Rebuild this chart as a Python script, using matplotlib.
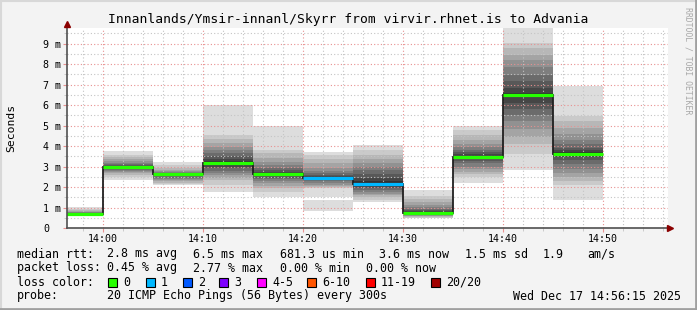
import matplotlib
matplotlib.use('Agg')
import matplotlib.pyplot as plt
from matplotlib.patches import Rectangle
from matplotlib.ticker import MultipleLocator, FixedLocator

W, H = 697, 310
MONO = 'DejaVu Sans Mono'

# ---------------- data ----------------
bar_start_min = [-5, 0, 5, 10, 15, 20, 25, 30, 35, 40, 45]   # minutes relative to 14:00
bar_len_min = 5
median_ms = [0.68, 3.00, 2.63, 3.19, 2.63, 2.44, 2.16, 0.75, 3.45, 6.49, 3.60]
loss_pings = [0, 0, 0, 0, 0, 1, 1, 0, 0, 0, 0]

# sorted ping round-trip times (ms) of each 5-minute round
pings_1355 = [0.58, 0.59, 0.60, 0.61, 0.62, 0.63, 0.64, 0.65, 0.66, 0.67,
              0.70, 0.71, 0.72, 0.74, 0.76, 0.79, 0.83, 0.88, 0.94, 1.02]
pings_1400 = [2.34, 2.48, 2.58, 2.66, 2.72, 2.78, 2.85, 2.90, 2.95, 3.00,
              3.03, 3.05, 3.08, 3.12, 3.18, 3.25, 3.35, 3.45, 3.56, 3.76]
pings_1405 = [2.10, 2.17, 2.22, 2.28, 2.34, 2.40, 2.46, 2.52, 2.58, 2.62,
              2.65, 2.66, 2.68, 2.70, 2.73, 2.78, 2.85, 2.95, 3.07, 3.23]
pings_1410 = [1.77, 2.10, 2.34, 2.45, 2.59, 2.70, 2.80, 2.91, 3.00, 3.12,
              3.28, 3.38, 3.50, 3.64, 3.80, 3.97, 4.15, 4.35, 4.55, 6.00]
pings_1415 = [1.50, 1.75, 1.93, 2.05, 2.18, 2.30, 2.38, 2.45, 2.52, 2.60,
              2.68, 2.75, 2.83, 2.95, 3.07, 3.20, 3.40, 3.64, 3.80, 5.00]
pings_1420 = [1.53, 1.93, 2.00, 2.05, 2.12, 2.20, 2.28, 2.35, 2.38, 2.42,
              2.47, 2.52, 2.60, 2.70, 2.80, 2.95, 3.15, 3.35, 3.55, 3.72]
pings_1425 = [1.25, 1.37, 1.50, 1.60, 1.68, 1.77, 1.85, 1.93, 2.00, 2.10,
              2.30, 2.45, 2.65, 2.85, 3.00, 3.15, 3.35, 3.55, 3.80, 4.05]
pings_1430 = [0.47, 0.51, 0.54, 0.57, 0.60, 0.62, 0.64, 0.67, 0.70, 0.73,
              0.78, 0.82, 0.88, 0.95, 1.02, 1.12, 1.25, 1.40, 1.55, 1.85]
pings_1435 = [2.20, 2.50, 2.65, 2.75, 2.90, 3.00, 3.15, 3.25, 3.35, 3.43,
              3.52, 3.60, 3.70, 3.80, 3.95, 4.10, 4.30, 4.55, 4.80, 5.00]
pings_1440 = [2.85, 3.60, 4.10, 4.45, 4.85, 5.20, 5.50, 5.80, 6.10, 6.40,
              6.60, 6.85, 7.15, 7.45, 7.85, 8.20, 8.45, 8.80, 9.05, 9.75]
pings_1445 = [1.35, 2.10, 2.30, 2.50, 2.70, 2.90, 3.10, 3.30, 3.45, 3.58,
              3.70, 3.80, 3.90, 4.10, 4.30, 4.60, 4.90, 5.20, 5.45, 6.95]
# lone low sample band of the 14:20 round (with one lost ping)
extra_band_1420 = [0.85, 1.37]

smoke = [pings_1355, pings_1400, pings_1405, pings_1410, pings_1415, pings_1420,
         pings_1425, pings_1430, pings_1435, pings_1440, pings_1445]

x_tick_pos = [0, 10, 20, 30, 40, 50]
x_tick_labels = ['14:00', '14:10', '14:20', '14:30', '14:40', '14:50']
y_tick_pos = [0, 1, 2, 3, 4, 5, 6, 7, 8, 9]
y_tick_labels = ['0', '1 m', '2 m', '3 m', '4 m', '5 m', '6 m', '7 m', '8 m', '9 m']

loss_labels = ['0', '1', '2', '3', '4-5', '6-10', '11-19', '20/20']
loss_colors = ['#26ff00', '#00b8ff', '#0059ff', '#7e00ff', '#ff00ff', '#ff5500', '#ff0000', '#a10000']

title = 'Innanlands/Ymsir-innanl/Skyrr from virvir.rhnet.is to Advania'
row_median = [('median rtt:', 17), ('2.8 ms avg', 107), ('6.5 ms max', 193),
              ('681.3 us min', 280), ('3.6 ms now', 379), ('1.5 ms sd', 465),
              ('1.9', 543), ('am/s', 587)]
row_loss = [('packet loss:', 17), ('0.45 % avg', 107), ('2.77 % max', 193),
            ('0.00 % min', 280), ('0.00 % now', 366)]
loss_box_x = [108, 146, 183, 219, 257, 307, 366, 431]
probe_text = '20 ICMP Echo Pings (56 Bytes) every 300s'
date_text = 'Wed Dec 17 14:56:15 2025'

# ---------------- figure ----------------
fig = plt.figure(figsize=(W / 100, H / 100), dpi=100, facecolor='#f3f3f3')

def fx(x):
    return x / W

def fy(y):
    return 1 - y / H

# border (3D frame)
fig.add_artist(plt.Line2D([0, 1], [fy(0.5), fy(0.5)], color='#d8d8d8', lw=1.5, transform=fig.transFigure))
fig.add_artist(plt.Line2D([fx(0.5), fx(0.5)], [0, 1], color='#d8d8d8', lw=1.5, transform=fig.transFigure))
fig.add_artist(plt.Line2D([0, 1], [fy(309), fy(309)], color='#a0a0a0', lw=2, transform=fig.transFigure))
fig.add_artist(plt.Line2D([fx(696), fx(696)], [0, 1], color='#a0a0a0', lw=2, transform=fig.transFigure))

left, right, top, bottom = 67, 668, 28, 228
ax = fig.add_axes([fx(left), fy(bottom), (right - left) / W, (bottom - top) / H])
ax.set_facecolor('white')
ax.set_xlim(-3.6, 56.5)
ax.set_ylim(0, 9.76)

def gray(k):
    v = int(190 / 10 * (10 - (k + 1))) + 50
    return '#%02x%02x%02x' % (v, v, v)

for k in range(10):
    for start, p in zip(bar_start_min, smoke):
        lo, hi = p[k], p[19 - k]
        ax.bar(start, hi - lo, bottom=lo, width=bar_len_min, align='edge',
               color=gray(k), linewidth=0, zorder=1 + k * 0.01)
ax.bar(20, extra_band_1420[1] - extra_band_1420[0], bottom=extra_band_1420[0],
       width=bar_len_min, align='edge', color=gray(0), linewidth=0, zorder=1)

# grid
ax.xaxis.set_major_locator(FixedLocator(x_tick_pos))
ax.xaxis.set_minor_locator(MultipleLocator(2))
ax.yaxis.set_major_locator(FixedLocator(y_tick_pos))
ax.yaxis.set_minor_locator(MultipleLocator(0.5))
ax.set_axisbelow(False)
ax.grid(which='minor', color='#c4c4c4', lw=0.8, linestyle=(0, (1, 2)))
ax.grid(which='major', color='#e89090', lw=0.8, linestyle=(0, (1, 2)))

# median line
edges = bar_start_min + [bar_start_min[-1] + bar_len_min]
ax.stairs(median_ms, edges, baseline=None, color='#202020', lw=1.3, zorder=4)
ax.hlines(median_ms, bar_start_min, [s + bar_len_min for s in bar_start_min],
          colors=[loss_colors[l] for l in loss_pings], lw=2.3, zorder=5)

# axes & ticks
for s in ['top', 'right']:
    ax.spines[s].set_visible(False)
for s in ['left', 'bottom']:
    ax.spines[s].set_color('#505050')
    ax.spines[s].set_linewidth(1.2)
    ax.spines[s].set_zorder(6)
ax.set_xticks(x_tick_pos, x_tick_labels, fontfamily=MONO, fontsize=7.2)
ax.set_yticks(y_tick_pos, y_tick_labels, fontfamily=MONO, fontsize=7.2)
for t in ax.get_yticklabels():
    t.set_horizontalalignment('left')
ax.tick_params(axis='y', which='major', length=3, color='#e89090', pad=14.3)
ax.tick_params(axis='x', which='major', length=3, color='#e89090', pad=1)
ax.tick_params(which='minor', length=2, color='#c4c4c4')
ax.plot([0], [1.022], marker='^', color='#8b0000', markersize=5, transform=ax.transAxes,
        clip_on=False, zorder=7)
ax.plot([1.003], [0], marker='>', color='#8b0000', markersize=5, transform=ax.transAxes,
        clip_on=False, zorder=7)

# texts
fig.text(fx(348), fy(19), title, ha='center', va='center', fontfamily=MONO, fontsize=9.4)
fig.text(fx(11), fy(128), 'Seconds', ha='center', va='center', rotation=90,
         fontfamily=MONO, fontsize=8.2)
fig.text(fx(688), fy(61), 'RRDTOOL / TOBI OETIKER', ha='center', va='center', rotation=270,
         fontfamily=MONO, fontsize=5.9, color='#a8a8a8')

fs = 8.4
for txt, x in row_median:
    fig.text(fx(x), fy(254), txt, ha='left', va='center', fontfamily=MONO, fontsize=fs)
for txt, x in row_loss:
    fig.text(fx(x), fy(268), txt, ha='left', va='center', fontfamily=MONO, fontsize=fs)
fig.text(fx(17), fy(282), 'loss color:', ha='left', va='center', fontfamily=MONO, fontsize=fs)
for bx, lab, col in zip(loss_box_x, loss_labels, loss_colors):
    fig.add_artist(Rectangle((fx(bx), fy(287)), 9 / W, 9 / H, transform=fig.transFigure,
                             facecolor=col, edgecolor='black', lw=0.8))
    fig.text(fx(bx + 15), fy(282), lab, ha='left', va='center', fontfamily=MONO, fontsize=fs)
fig.text(fx(17), fy(296), 'probe:', ha='left', va='center', fontfamily=MONO, fontsize=fs)
fig.text(fx(107), fy(296), probe_text, ha='left', va='center', fontfamily=MONO, fontsize=fs)
fig.text(fx(681), fy(296), date_text, ha='right', va='center', fontfamily=MONO, fontsize=fs)

fig.savefig('out.png', dpi=100, facecolor=fig.get_facecolor())
